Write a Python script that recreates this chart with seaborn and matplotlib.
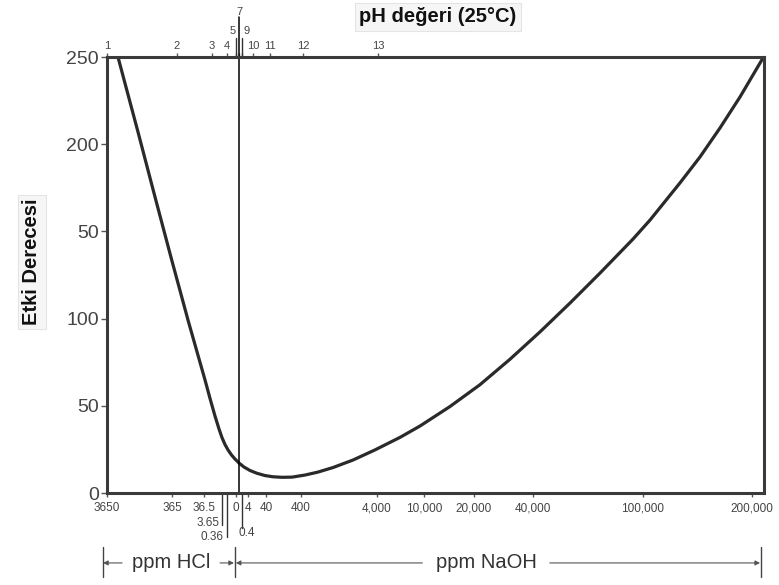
import matplotlib
matplotlib.use('Agg')
import matplotlib.pyplot as plt
import seaborn as sns
import pandas as pd

# curve; x = position along the combined HCl / NaOH scale (0-100)
curve_x = [1.72, 4.76, 7.31, 9.85, 12.37, 14.92, 15.68, 16.44, 17.05, 17.50,
           17.96, 18.42, 18.95, 19.48, 20.09, 20.85, 21.77, 22.83, 24.05, 25.27,
           26.64, 28.16, 30.14, 32.12, 34.40, 37.44, 40.79, 44.60, 47.64, 52.21,
           56.77, 61.34, 65.91, 70.47, 75.04, 80.06, 82.65, 87.21, 90.26, 93.30,
           96.35, 99.70]
curve_y = [249.3, 206.4, 169.7, 133.6, 98.6, 64.8, 54.2, 44.1, 36.7, 31.8,
           27.8, 24.7, 21.8, 19.5, 17.2, 14.9, 12.9, 11.3, 10.0, 9.3,
           9.0, 9.1, 10.3, 12.0, 14.6, 18.9, 24.7, 31.9, 38.4, 49.6,
           62.1, 76.7, 92.4, 108.9, 126.1, 145.6, 156.5, 177.8, 192.7, 209.3,
           227.1, 248.5]

y_ticks = [0, 50, 100, 150, 200, 250]
y_labels = ['0', '50', '100', '50', '200', '250']

# pH scale on top
ph_pos = [0, 10.65, 15.98, 18.26, 19.63, 20.07, 20.55, 22.22, 24.81, 29.83, 41.25]
ph_labels = ['1', '2', '3', '4', '5', '7', '9', '10', '11', '12', '13']
ph_raised = ['5', '7', '9']

# ppm scale at the bottom
ppm_pos = [0, 9.89, 14.76, 19.63, 21.46, 24.20, 29.53, 41.10, 48.25, 55.86,
           64.84, 81.58, 98.17]
ppm_labels = ['3650', '365', '36.5', '0', '4', '40', '400', '4,000', '10,000',
              '20,000', '40,000', '100,000', '200,000']
# small values written below the axis with leader lines
sub_labels = ['3.65', '0.36', '0.4']
sub_pos = [15.4, 16.0, 21.2]
sub_lines = [17.5, 18.26, 20.55]

df = pd.DataFrame({'pos': curve_x, 'etki': curve_y})

sns.set_theme(style='white')
plt.rcParams['font.family'] = ['Liberation Sans', 'DejaVu Sans']

fig = plt.figure(figsize=(7.79, 5.85), dpi=100)
ax = fig.add_axes([107 / 779, 92 / 585, 657 / 779, 436 / 585])

sns.lineplot(data=df, x='pos', y='etki', ax=ax, color='#2a2a2a', linewidth=2.3,
             sort=False, estimator=None)
ax.set_xlim(0, 100)
ax.set_ylim(0, 250)
ax.set_xlabel('')
ax.set_ylabel('')

for s in ax.spines.values():
    s.set_visible(True)
    s.set_color('#3a3a3a')
    s.set_linewidth(2.2)

ax.set_yticks(y_ticks, y_labels)
ax.tick_params(axis='y', left=True, length=4, width=1, color='#555555',
               labelsize=14, labelcolor='#444444', pad=2)
ax.set_xticks(ppm_pos, ppm_labels)
ax.tick_params(axis='x', bottom=True, length=3, width=1, color='#555555',
               labelsize=8.5, labelcolor='#444444', pad=3.5)

# pH axis on top
top = ax.secondary_xaxis('top')
top.set_xticks(ph_pos, [l if l not in ph_raised else '' for l in ph_labels])
top.tick_params(axis='x', top=True, length=3, width=1, color='#555555',
                labelsize=8, labelcolor='#444444', pad=1.5)
top.spines['top'].set_visible(False)

# neutral line (pH 7 / 0 ppm) running through the plot
ax.plot([20.07, 20.07], [0, 272.9], color='black', lw=1.1, clip_on=False)
for x in [19.63, 20.55]:
    ax.plot([x, x], [250, 261], color='#333333', lw=1, clip_on=False)
ax.text(19.2, 264.9, '5', ha='center', va='center', fontsize=8, color='#444444')
ax.text(21.3, 264.9, '9', ha='center', va='center', fontsize=8, color='#444444')
ax.text(20.1, 275.6, '7', ha='center', va='center', fontsize=8, color='#444444')

# small ppm values below the axis
sub_y = [-17.2, -25.2, -22.9]
line_end = [-18.3, -25.2, -20.1]
for lab, x, y in zip(sub_labels, sub_pos, sub_y):
    ax.text(x, y, lab, ha='center', va='center', fontsize=8.5, color='#444444')
for x, y in zip(sub_lines, line_end):
    ax.plot([x, x], [0, y], color='#333333', lw=1, clip_on=False)

# HCl / NaOH ranges
row_y = -40.1
for x in [-0.6, 19.48, 99.54]:
    ax.plot([x, x], [-31, -48.2], color='#444444', lw=1, clip_on=False)
arrows = [(2.3, -0.6), (17.2, 19.33), (48.0, 19.6), (67.4, 99.4)]
for x0, x1 in arrows:
    ax.annotate('', xy=(x1, row_y), xytext=(x0, row_y),
                arrowprops=dict(arrowstyle='-|>', color='#555555', lw=0.8,
                                mutation_scale=7, shrinkA=0, shrinkB=0),
                annotation_clip=False)
ax.text(9.74, row_y, 'ppm HCl', ha='center', va='center', fontsize=14.5,
        color='#333333')
ax.text(57.8, row_y, 'ppm NaOH', ha='center', va='center', fontsize=14.5,
        color='#333333')

box = dict(boxstyle='square,pad=0.2', facecolor='#f6f6f6', edgecolor='#e4e4e4', lw=0.8)
fig.text(32 / 779, 1 - 262 / 585, 'Etki Derecesi', rotation=90, ha='center',
         va='center', fontsize=14.5, fontweight='bold', color='#111111', bbox=box)
fig.text(438 / 779, 1 - 17 / 585, 'pH değeri (25°C)', ha='center', va='center',
         fontsize=14.5, fontweight='bold', color='#111111', bbox=box)

fig.savefig('out.png', dpi=100)
